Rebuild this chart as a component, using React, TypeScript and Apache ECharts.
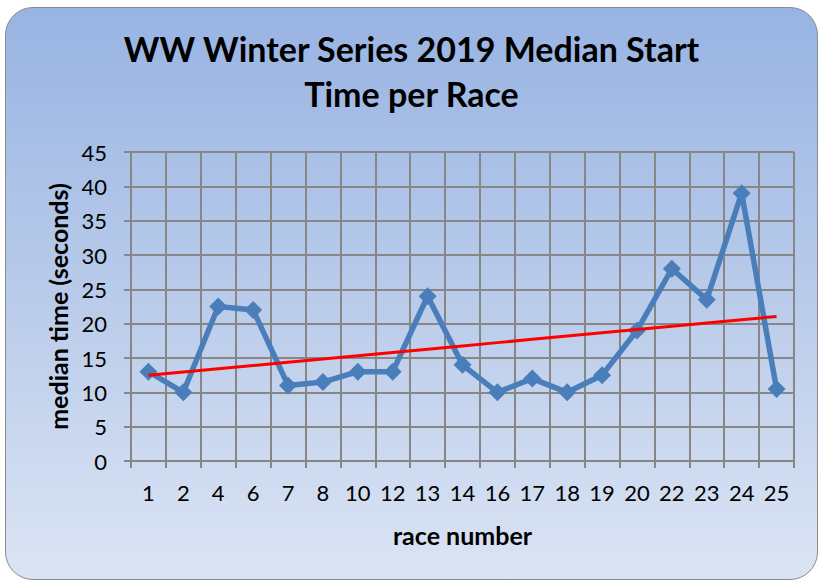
import React, { useEffect, useRef } from "react";
import * as echarts from "echarts";

const races = ["1", "2", "4", "6", "7", "8", "10", "12", "13", "14", "16", "17", "18", "19", "20", "22", "23", "24", "25"];
const medianTimes = [13, 10, 22.5, 22, 11, 11.5, 13, 13, 24, 14, 10, 12, 10, 12.5, 19, 28, 23.5, 39, 10.5];
const yTicks = { min: 0, max: 45, interval: 5 };

function linearTrend(values: number[]): number[] {
  const n = values.length;
  const xs = values.map((_, i) => i + 1);
  const mx = xs.reduce((a, b) => a + b, 0) / n;
  const my = values.reduce((a, b) => a + b, 0) / n;
  let num = 0;
  let den = 0;
  for (let i = 0; i < n; i++) {
    num += (xs[i] - mx) * (values[i] - my);
    den += (xs[i] - mx) * (xs[i] - mx);
  }
  const slope = num / den;
  const intercept = my - slope * mx;
  return xs.map((x) => +(intercept + slope * x).toFixed(3));
}

export default function App() {
  const ref = useRef<HTMLDivElement>(null);
  useEffect(() => {
    if (!ref.current) return;
    const chart = echarts.init(ref.current, null, { renderer: "svg" });
    const font = "Lato, 'Open Sans', sans-serif";
    const gridColor = "#878787";
    chart.setOption({
      animation: false,
      backgroundColor: "transparent",
      title: {
        text: "WW Winter Series 2019 Median Start\nTime per Race",
        left: "center",
        top: 21,
        textStyle: {
          fontFamily: font,
          fontSize: 34,
          fontWeight: "bold",
          color: "#000",
          lineHeight: 45,
        },
      },
      grid: { left: 131, right: 29, top: 152, bottom: 121 },
      xAxis: {
        type: "category",
        data: races,
        boundaryGap: true,
        name: "race number",
        nameLocation: "middle",
        nameGap: 61,
        nameTextStyle: { fontFamily: font, fontSize: 25, fontWeight: "bold", color: "#000" },
        axisLine: { show: true, lineStyle: { color: gridColor, width: 2 } },
        axisTick: { show: true, interval: 0, length: 7, lineStyle: { color: gridColor, width: 2 } },
        axisLabel: { interval: 0, margin: 20, fontFamily: font, fontSize: 22, color: "#000" },
        splitLine: { show: true, interval: 0, lineStyle: { color: gridColor, width: 2 } },
      },
      yAxis: {
        type: "value",
        min: yTicks.min,
        max: yTicks.max,
        interval: yTicks.interval,
        name: "median time (seconds)",
        nameLocation: "middle",
        nameGap: 61,
        nameTextStyle: { fontFamily: font, fontSize: 25, fontWeight: "bold", color: "#000" },
        axisLine: { show: true, lineStyle: { color: gridColor, width: 2 } },
        axisTick: { show: true, length: 7, lineStyle: { color: gridColor, width: 2 } },
        axisLabel: { margin: 24, fontFamily: font, fontSize: 22, color: "#000" },
        splitLine: { show: true, lineStyle: { color: gridColor, width: 2 } },
      },
      series: [
        {
          type: "line",
          data: medianTimes,
          symbol: "diamond",
          symbolSize: 18,
          lineStyle: { color: "#4a7ebb", width: 5.5 },
          itemStyle: { color: "#4a7ebb" },
          z: 3,
        },
        {
          type: "line",
          data: linearTrend(medianTimes),
          symbol: "none",
          lineStyle: { color: "#ff0000", width: 3 },
          z: 4,
        },
      ],
    });
    return () => chart.dispose();
  }, []);
  return (
    <div
      style={{
        position: "absolute",
        left: 0,
        top: 0,
        width: 823,
        height: 582,
        background: "#fff",
      }}
    >
      <div
        style={{
          position: "absolute",
          left: 5,
          top: 7,
          width: 811,
          height: 571,
          borderRadius: 28,
          border: "1.5px solid #8a8a8a",
          background: "linear-gradient(to bottom, #98b4e3 0%, #b9cbea 50%, #dbe4f4 100%)",
        }}
      />
      <div ref={ref} style={{ position: "absolute", left: 0, top: 0, width: 823, height: 582 }} />
    </div>
  );
}
